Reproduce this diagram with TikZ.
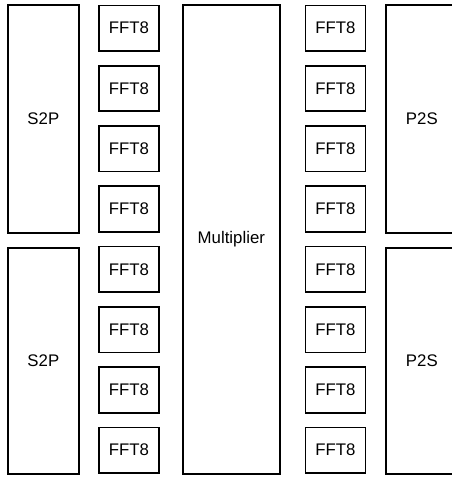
\documentclass[tikz,border=0pt]{standalone}
\usepackage{fontspec}
\setmainfont{Liberation Sans}
\begin{document}
\begin{tikzpicture}[x=1pt,y=-1pt,
  blk/.style={draw=black,line width=1.7pt,fill=white,inner sep=0pt,font=\fontsize{16.8}{19}\selectfont},
  fftbox/.style={blk,minimum width=60pt,minimum height=45.5pt,anchor=north west}]
\clip (0,0) rectangle (452,479);
\fill[white] (0,0) rectangle (452,479);
% S2P blocks
\node[blk,minimum width=71pt,minimum height=228pt,anchor=north west] (s2pa) at (7,4) {S2P};
\node[blk,minimum width=71pt,minimum height=226pt,anchor=north west] (s2pb) at (7,247) {S2P};
% Multiplier
\node[blk,minimum width=97pt,minimum height=469pt,anchor=north west] (mult) at (182,4) {Multiplier};
% P2S blocks (right edge beyond picture)
\node[blk,minimum width=72pt,minimum height=228pt,anchor=north west] (p2sa) at (385,4) {P2S};
\node[blk,minimum width=72pt,minimum height=226pt,anchor=north west] (p2sb) at (385,247) {P2S};
% FFT8 columns
\foreach \i in {0,...,7}{
  \node[fftbox] (fl\i) at (98,{4.5+60.3*\i}) {FFT8};
  \node[fftbox] (fr\i) at (304.5,{4.5+60.3*\i}) {FFT8};
}
\end{tikzpicture}
\end{document}
